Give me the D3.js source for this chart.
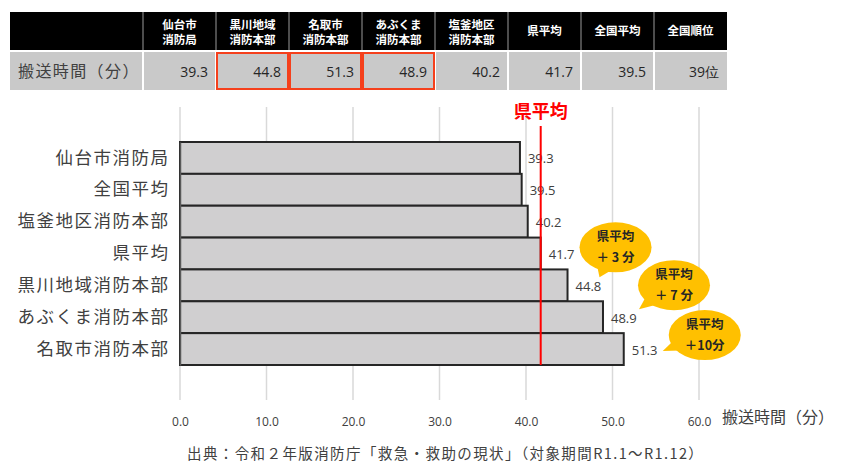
<!DOCTYPE html>
<html>
<head>
<meta charset="utf-8">
<script src="https://cdn.jsdelivr.net/npm/d3@7"></script>
<style>
body{margin:0;background:#fff;}
svg text{font-family:"Noto Sans CJK JP","Noto Sans",sans-serif;}
.num{font-family:"Open Sans","Noto Sans",sans-serif;}
</style>
</head>
<body>
<div id="chart"></div>
<script>
// table data
var tableHeaders = ['仙台市\n消防局','黒川地域\n消防本部','名取市\n消防本部','あぶくま\n消防本部','塩釜地区\n消防本部','県平均','全国平均','全国順位']
var tableValues = ['39.3','44.8','51.3','48.9','40.2','41.7','39.5','39位']
var tableHighlight = [false,true,true,true,false,false,false,false]
var tableRowLabel = '搬送時間（分）'

// chart data
var categories = ['仙台市消防局','全国平均','塩釜地区消防本部','県平均','黒川地域消防本部','あぶくま消防本部','名取市消防本部']
var values = [39.3,39.5,40.2,41.7,44.8,48.9,51.3]
var xTicks = [0,10,20,30,40,50,60]
var prefAverage = 41.7
var calloutCats = ['黒川地域消防本部','あぶくま消防本部','名取市消防本部']
var calloutTexts = ['＋ 3 分','＋ 7 分','＋10分']

var width = 842
var height = 463

var svg = d3.select('#chart')
			.append('svg')
			.attr('width',width)
			.attr('height',height)

// ---------- table ----------
var tLeft = 10, tLabelRight = 143, tRight = 727
var colX = d3.scaleBand().domain(d3.range(tableHeaders.length)).range([tLabelRight,tRight])
var headTop = 12, headBottom = 50, rowTop = 52, rowBottom = 90

svg.append('rect')
	.attr('x',tLeft).attr('y',headTop)
	.attr('width',tRight-tLeft).attr('height',headBottom-headTop)
	.attr('fill','#000')

svg.append('rect')
	.attr('x',tLeft).attr('y',rowTop)
	.attr('width',tRight-tLeft).attr('height',rowBottom-rowTop)
	.attr('fill','#c9c9c9')

// separators
svg.selectAll('.hsep')
	.data(d3.range(tableHeaders.length))
	.enter().append('line')
	.attr('x1',function(d){return colX(d)}).attr('x2',function(d){return colX(d)})
	.attr('y1',headTop).attr('y2',headBottom)
	.attr('stroke','#9a9a9a').attr('stroke-width',1)

svg.selectAll('.rsep')
	.data(d3.range(tableHeaders.length))
	.enter().append('line')
	.attr('x1',function(d){return colX(d)}).attr('x2',function(d){return colX(d)})
	.attr('y1',rowTop).attr('y2',rowBottom)
	.attr('stroke','#fff').attr('stroke-width',2)

// header texts, one text per line
tableHeaders.forEach(function(h,i){
	var lines = h.split('\n')
	var y0 = lines.length==1 ? 35 : 29
	lines.forEach(function(l,j){
		svg.append('text')
			.attr('x',colX(i)+colX.bandwidth()/2)
			.attr('y',y0+j*14.5)
			.attr('text-anchor','middle')
			.attr('font-size',11.5)
			.attr('font-weight','bold')
			.attr('fill','#fff')
			.text(l)
	})
})

svg.append('text')
	.attr('x',18).attr('y',77)
	.attr('font-size',16)
	.attr('letter-spacing','1.4px')
	.attr('fill','#404040')
	.text(tableRowLabel)

svg.selectAll('.val')
	.data(tableValues)
	.enter().append('text')
	.attr('class','num')
	.attr('x',function(d,i){return colX(i)+colX.bandwidth()-8})
	.attr('y',77)
	.attr('text-anchor','end')
	.attr('font-size',14)
	.attr('fill','#262626')
	.text(function(d){return d})

svg.selectAll('.hl')
	.data(tableHighlight.map(function(h,i){return {h:h,i:i}}).filter(function(d){return d.h}))
	.enter().append('rect')
	.attr('x',function(d){return colX(d.i)+1})
	.attr('y',rowTop+1)
	.attr('width',colX.bandwidth()-2)
	.attr('height',rowBottom-rowTop-2)
	.attr('fill','none')
	.attr('stroke','#f5401c')
	.attr('stroke-width',2)

// ---------- bar chart ----------
var x = d3.scaleLinear().domain([0,60]).range([180,699])
var y = d3.scaleBand().domain(categories).range([142,365]).padding(0)

// gridlines
svg.selectAll('.grid')
	.data(xTicks)
	.enter().append('line')
	.attr('x1',function(d){return x(d)}).attr('x2',function(d){return x(d)})
	.attr('y1',107).attr('y2',400)
	.attr('stroke','#d9d9d9')
	.attr('stroke-width',1.5)

var xAxis = svg.append('g')
	.attr('transform','translate(0,400)')
	.call(d3.axisBottom(x).tickValues(xTicks).tickFormat(d3.format('.1f')).tickSize(0).tickPadding(17))
xAxis.select('.domain').remove()
xAxis.selectAll('text')
	.attr('class','num')
	.attr('font-size',12)
	.attr('fill','#404040')

svg.append('text')
	.attr('x',722).attr('y',423)
	.attr('font-size',16)
	.attr('fill','#404040')
	.text('搬送時間（分）')

svg.selectAll('.bar')
	.data(values)
	.enter().append('rect')
	.attr('x',x(0))
	.attr('y',function(d,i){return y(categories[i])})
	.attr('width',function(d){return x(d)-x(0)})
	.attr('height',y.bandwidth())
	.attr('fill','#d0cfd0')
	.attr('stroke','#262626')
	.attr('stroke-width',2)

var yAxis = svg.append('g')
	.attr('transform','translate('+x(0)+',0)')
	.call(d3.axisLeft(y).tickSize(0).tickPadding(10.5))
yAxis.select('.domain').attr('stroke','#595959').attr('stroke-width',1.5)
yAxis.selectAll('text')
	.attr('font-size',17.5)
	.attr('letter-spacing','1.5px')
	.attr('fill','#404040')

svg.selectAll('.lbl')
	.data(values)
	.enter().append('text')
	.attr('class','num')
	.attr('x',function(d){return x(d)+8})
	.attr('y',function(d,i){return y(categories[i])+y.bandwidth()/2+2})
	.attr('dominant-baseline','middle')
	.attr('font-size',13)
	.attr('fill','#404040')
	.text(function(d){return d.toFixed(1)})

// prefecture average line
svg.append('line')
	.attr('x1',x(prefAverage)).attr('x2',x(prefAverage))
	.attr('y1',126).attr('y2',y.range()[1])
	.attr('stroke','#ff0000')
	.attr('stroke-width',2)

svg.append('text')
	.attr('x',x(prefAverage)).attr('y',118)
	.attr('text-anchor','middle')
	.attr('font-size',18)
	.attr('font-weight','bold')
	.attr('fill','#ff0000')
	.text('県平均')

// callouts
var calloutOffset = [[48,-38],[71,-32],[81,-14]]
var tipOffset = [[32,-8],[36,-8],[39,2]]
var rx = 36, ry = 25

calloutCats.forEach(function(c,i){
	var v = values[categories.indexOf(c)]
	var by = y(c)+y.bandwidth()/2
	var cx = x(v)+calloutOffset[i][0]
	var cy = by+calloutOffset[i][1]
	var tx = x(v)+tipOffset[i][0]
	var ty = by+tipOffset[i][1]
	var ang = Math.atan2((ty-cy)/ry,(tx-cx)/rx)
	var a1 = ang-0.25, a2 = ang+0.25
	var g = svg.append('g')
	g.append('ellipse')
		.attr('cx',cx).attr('cy',cy)
		.attr('rx',rx).attr('ry',ry)
		.attr('fill','#ffc000')
	g.append('path')
		.attr('d','M'+(cx+rx*0.9*Math.cos(a1))+','+(cy+ry*0.9*Math.sin(a1))
			+'L'+tx+','+ty
			+'L'+(cx+rx*0.9*Math.cos(a2))+','+(cy+ry*0.9*Math.sin(a2))+'Z')
		.attr('fill','#ffc000')
	g.append('text')
		.attr('x',cx).attr('y',cy-6)
		.attr('text-anchor','middle')
		.attr('font-size',12.5)
		.attr('font-weight','bold')
		.attr('fill','#262626')
		.text('県平均')
	g.append('text')
		.attr('x',cx).attr('y',cy+15)
		.attr('text-anchor','middle')
		.attr('font-size',12.5)
		.attr('font-weight','bold')
		.attr('fill','#262626')
		.text(calloutTexts[i])
})

// source
svg.append('text')
	.attr('x',187).attr('y',459)
	.attr('font-size',14.5)
	.attr('letter-spacing','1.4px')
	.attr('fill','#404040')
	.text('出典：令和２年版消防庁「救急・救助の現状」（対象期間R1.1～R1.12）')
</script>
</body>
</html>
